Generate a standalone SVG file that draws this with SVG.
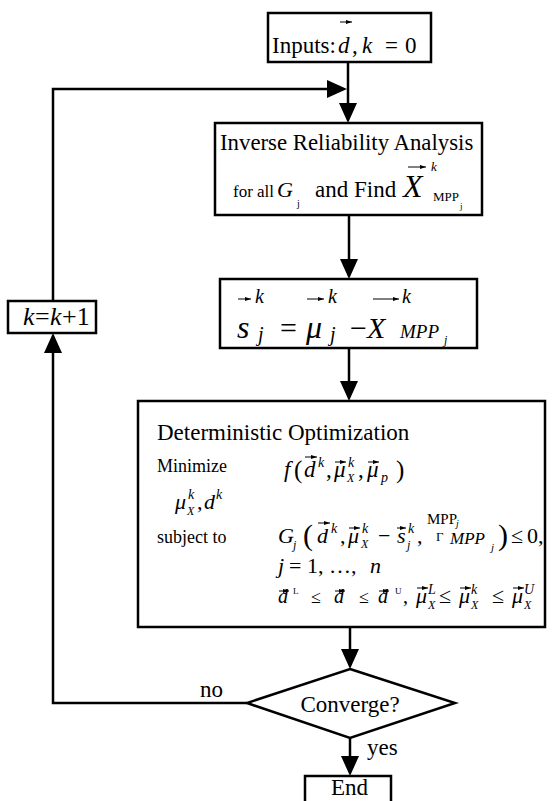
<svg xmlns="http://www.w3.org/2000/svg" width="560" height="801" viewBox="0 0 560 801">
  <style>
    .box { fill: #fff; stroke: #000; stroke-width: 2.5; }
    .ln { fill: none; stroke: #000; stroke-width: 2.5; marker-end: url(#head); }
    .vec { stroke: #000; stroke-width: 1; marker-end: url(#vh); }
    .t { font-family: "Liberation Serif", "Times New Roman", serif; fill: #000; }
    .i { font-style: italic; }
  </style>
  <defs>
    <marker id="head" markerUnits="userSpaceOnUse" viewBox="0 0 20 18" refX="16" refY="9" markerWidth="20" markerHeight="18" orient="auto">
      <path d="M0,0 L20,9 L0,18 z" fill="#000"/>
    </marker>
    <marker id="vh" markerUnits="userSpaceOnUse" viewBox="0 0 6 4" refX="6" refY="2" markerWidth="6" markerHeight="4" orient="auto">
      <path d="M0,0 L6,2 L0,4 z" fill="#000"/>
    </marker>
  </defs>

  <!-- connectors -->
  <g id="connectors">
    <line class="ln" x1="348" y1="62" x2="348" y2="119"/>
    <line class="ln" x1="349" y1="215" x2="349" y2="275"/>
    <line class="ln" x1="349" y1="348" x2="349" y2="397"/>
    <line class="ln" x1="350" y1="627" x2="350" y2="665"/>
    <line class="ln" x1="350" y1="738" x2="350" y2="772"/>
    <path class="ln" d="M247,703 H53 V337"/>
    <path class="ln" d="M53,301 V89 H343"/>
    <text class="t" x="200" y="697" font-size="23">no</text>
    <text class="t" x="367" y="755" font-size="23">yes</text>
  </g>

  <!-- start -->
  <g id="inputs">
    <rect class="box" x="268" y="13" width="163" height="49"/>
    <text class="t" x="272" y="53" font-size="23">Inputs:</text>
    <text class="t i" x="338" y="53" font-size="23">d</text>
    <line class="vec" x1="340" y1="22" x2="352" y2="22"/>
    <text class="t" x="352" y="53" font-size="23">,</text>
    <text class="t i" x="362" y="53" font-size="23">k</text>
    <text class="t" x="385" y="53" font-size="23">=</text>
    <text class="t" x="405" y="53" font-size="23">0</text>
  </g>

  <!-- inverse reliability analysis -->
  <g id="ira">
    <rect class="box" x="215" y="123" width="267" height="92"/>
    <text class="t" x="220" y="150" font-size="22.8">Inverse Reliability Analysis</text>
    <text class="t" x="233" y="197" font-size="17">for all</text>
    <text class="t i" x="277" y="197" font-size="22">G</text>
    <text class="t" x="297" y="207" font-size="10">j</text>
    <text class="t" x="315" y="197" font-size="23">and Find</text>
    <text class="t i" x="403" y="197" font-size="32">X</text>
    <line class="vec" x1="408" y1="167" x2="426" y2="167"/>
    <text class="t i" x="431" y="171" font-size="13">k</text>
    <text class="t" x="433" y="201" font-size="13">MPP</text>
    <text class="t" x="460" y="209" font-size="9">j</text>
  </g>

  <!-- shift vector -->
  <g id="shift">
    <rect class="box" x="220" y="279" width="257" height="69"/>
    <text class="t i" x="237" y="338" font-size="32">s</text>
    <line class="vec" x1="238" y1="299" x2="251" y2="299"/>
    <text class="t i" x="255" y="303" font-size="20">k</text>
    <text class="t i" x="258" y="341" font-size="20">j</text>
    <text class="t" x="280" y="338" font-size="30">=</text>
    <text class="t i" x="306" y="338" font-size="32">μ</text>
    <line class="vec" x1="307" y1="299" x2="324" y2="299"/>
    <text class="t i" x="328" y="303" font-size="20">k</text>
    <text class="t i" x="330" y="341" font-size="20">j</text>
    <text class="t" x="350" y="338" font-size="30">−</text>
    <text class="t i" x="367" y="338" font-size="30">X</text>
    <line class="vec" x1="373" y1="299" x2="399" y2="299"/>
    <text class="t i" x="402" y="303" font-size="20">k</text>
    <text class="t i" x="400" y="338" font-size="19">MPP</text>
    <text class="t i" x="444" y="344" font-size="12">j</text>
  </g>

  <!-- deterministic optimization -->
  <g id="opt">
    <rect class="box" x="138" y="401" width="407" height="226"/>
    <text class="t" x="157" y="440" font-size="23">Deterministic Optimization</text>
    <text class="t" x="157" y="472" font-size="18">Minimize</text>
    <!-- objective -->
    <text class="t i" x="284" y="477" font-size="23">f</text>
    <text class="t" x="294" y="478" font-size="25">(</text>
    <text class="t i" x="304" y="477" font-size="23">d</text>
    <line class="vec" x1="305" y1="457" x2="317" y2="457"/>
    <text class="t i" x="318" y="467" font-size="14">k</text>
    <text class="t" x="326" y="477" font-size="23">,</text>
    <text class="t i" x="334" y="477" font-size="23">μ</text>
    <line class="vec" x1="335" y1="462" x2="346" y2="462"/>
    <text class="t i" x="348" y="467" font-size="14">k</text>
    <text class="t i" x="347" y="482" font-size="12">X</text>
    <text class="t" x="358" y="477" font-size="23">,</text>
    <text class="t i" x="367" y="477" font-size="23">μ</text>
    <line class="vec" x1="368" y1="462" x2="379" y2="462"/>
    <text class="t i" x="381" y="482" font-size="14">p</text>
    <text class="t" x="396" y="478" font-size="25">)</text>
    <!-- decision variables -->
    <text class="t i" x="175" y="509" font-size="22">μ</text>
    <text class="t i" x="188" y="499" font-size="14">k</text>
    <text class="t i" x="187" y="515" font-size="12">X</text>
    <text class="t" x="197" y="509" font-size="22">,</text>
    <text class="t i" x="204" y="509" font-size="22">d</text>
    <text class="t i" x="216" y="499" font-size="14">k</text>
    <!-- constraints -->
    <text class="t" x="157" y="543" font-size="18">subject to</text>
    <text class="t i" x="278" y="543" font-size="22">G</text>
    <text class="t i" x="293" y="549" font-size="12">j</text>
    <text class="t" x="303" y="545" font-size="30">(</text>
    <text class="t i" x="317" y="543" font-size="22">d</text>
    <line class="vec" x1="318" y1="523" x2="330" y2="523"/>
    <text class="t i" x="331" y="533" font-size="14">k</text>
    <text class="t" x="340" y="543" font-size="22">,</text>
    <text class="t i" x="348" y="543" font-size="22">μ</text>
    <line class="vec" x1="349" y1="528" x2="360" y2="528"/>
    <text class="t i" x="362" y="533" font-size="14">k</text>
    <text class="t i" x="361" y="548" font-size="12">X</text>
    <text class="t" x="378" y="543" font-size="22">−</text>
    <text class="t i" x="397" y="543" font-size="22">s</text>
    <line class="vec" x1="397" y1="528" x2="406" y2="528"/>
    <text class="t i" x="408" y="533" font-size="14">k</text>
    <text class="t i" x="407" y="549" font-size="12">j</text>
    <text class="t" x="417" y="543" font-size="22">,</text>
    <text class="t" x="427" y="524" font-size="15">MPP</text>
    <text class="t i" x="456" y="527" font-size="10">j</text>
    <text class="t" x="436" y="541" font-size="13">Γ</text>
    <text class="t i" x="450" y="544" font-size="17">MPP</text>
    <text class="t i" x="491" y="551" font-size="11">j</text>
    <text class="t" x="498" y="545" font-size="30">)</text>
    <text class="t" x="511" y="543" font-size="22">≤</text>
    <text class="t" x="527" y="543" font-size="22">0,</text>
    <text class="t i" x="278" y="573" font-size="22">j</text>
    <text class="t" x="289" y="573" font-size="22">= 1, …,</text>
    <text class="t i" x="370" y="573" font-size="22">n</text>
    <!-- bounds -->
    <text class="t i" x="278" y="603" font-size="20">d</text>
    <line class="vec" x1="279" y1="591" x2="289" y2="591"/>
    <text class="t" x="293" y="594" font-size="9" font-family="Liberation Sans, sans-serif">L</text>
    <text class="t" x="311" y="603" font-size="18">≤</text>
    <text class="t i" x="334" y="603" font-size="20">d</text>
    <line class="vec" x1="335" y1="591" x2="345" y2="591"/>
    <text class="t" x="359" y="603" font-size="18">≤</text>
    <text class="t i" x="378" y="603" font-size="20">d</text>
    <line class="vec" x1="379" y1="591" x2="389" y2="591"/>
    <text class="t" x="395" y="594" font-size="9" font-family="Liberation Sans, sans-serif">U</text>
    <text class="t" x="403" y="603" font-size="20">,</text>
    <text class="t i" x="416" y="603" font-size="22">μ</text>
    <line class="vec" x1="417" y1="588" x2="428" y2="588"/>
    <text class="t i" x="428" y="594" font-size="14">L</text>
    <text class="t i" x="428" y="609" font-size="12">X</text>
    <text class="t" x="439" y="603" font-size="22">≤</text>
    <text class="t i" x="459" y="603" font-size="22">μ</text>
    <line class="vec" x1="460" y1="588" x2="471" y2="588"/>
    <text class="t i" x="471" y="594" font-size="14">k</text>
    <text class="t i" x="471" y="609" font-size="12">X</text>
    <text class="t" x="492" y="603" font-size="22">≤</text>
    <text class="t i" x="512" y="603" font-size="22">μ</text>
    <line class="vec" x1="513" y1="588" x2="524" y2="588"/>
    <text class="t i" x="524" y="594" font-size="14">U</text>
    <text class="t i" x="524" y="609" font-size="12">X</text>
  </g>

  <!-- update counter -->
  <g id="update">
    <rect class="box" x="8" y="301" width="88" height="32"/>
    <text class="t i" x="23" y="325" font-size="26">k</text>
    <text class="t" x="35" y="325" font-size="26">=</text>
    <text class="t i" x="50" y="325" font-size="26">k</text>
    <text class="t" x="62" y="325" font-size="26">+1</text>
  </g>

  <!-- convergence check -->
  <g id="converge">
    <polygon class="box" points="350,669 455,703 350,738 247,703"/>
    <text class="t" x="350" y="712" font-size="23" text-anchor="middle">Converge?</text>
  </g>

  <!-- stop -->
  <g id="end">
    <rect class="box" x="305" y="776" width="86" height="40"/>
    <text class="t" x="331" y="795" font-size="23">End</text>
  </g>
</svg>
